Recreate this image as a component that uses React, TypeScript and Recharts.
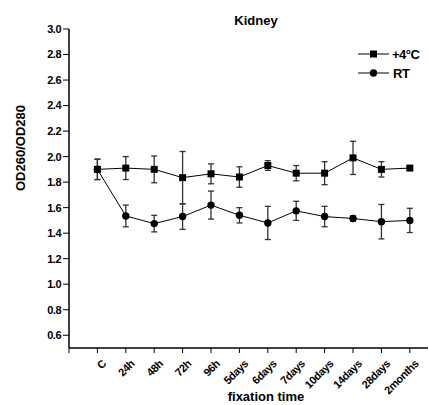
import React from "react";
import {
  LineChart, Line, XAxis, YAxis, ErrorBar, Customized,
} from "recharts";

const categories = [
  "C", "24h", "48h", "72h", "96h", "5days", "6days",
  "7days", "10days", "14days", "28days", "2months",
];

const cold = [1.9, 1.91, 1.9, 1.835, 1.865, 1.84, 1.93, 1.87, 1.87, 1.99, 1.9, 1.91];
const coldErr = [0.08, 0.09, 0.105, 0.205, 0.078, 0.08, 0.038, 0.06, 0.09, 0.13, 0.06, 0.01];

const rt = [1.9, 1.535, 1.475, 1.53, 1.62, 1.54, 1.48, 1.575, 1.53, 1.515, 1.49, 1.5];
const rtErr = [0.08, 0.085, 0.065, 0.1, 0.11, 0.06, 0.13, 0.075, 0.08, 0.02, 0.135, 0.095];

const yTicks = [0.6, 0.8, 1.0, 1.2, 1.4, 1.6, 1.8, 2.0, 2.2, 2.4, 2.6, 2.8, 3.0];
const xTicks = [0, 1, 2, 3, 4, 5, 6, 7, 8, 9, 10, 11, 12];

const data = categories.map((c, i) => ({
  x: i + 1,
  name: c,
  cold: cold[i],
  coldErr: coldErr[i],
  rt: rt[i],
  rtErr: rtErr[i],
}));

const FONT = "'Liberation Sans', Arial, sans-serif";

function Square(props: any) {
  const { cx, cy } = props;
  if (cx == null || cy == null) return null;
  return <rect x={cx - 3.5} y={cy - 3.5} width={7} height={7} fill="#000" />;
}

function Circle(props: any) {
  const { cx, cy } = props;
  if (cx == null || cy == null) return null;
  return <circle cx={cx} cy={cy} r={3.7} fill="#000" />;
}

function XTick(props: any) {
  const { x, y, payload } = props;
  const label = payload.value >= 1 ? categories[payload.value - 1] : "";
  if (!label) return null;
  return (
    <text
      transform={`translate(${x + 4},${y + 4}) rotate(-45)`}
      textAnchor="end"
      dy="0.7em"
      fontSize={11}
      fontWeight="bold"
      fontFamily={FONT}
      letterSpacing={-0.4}
      fill="#000"
    >
      {label}
    </text>
  );
}

function Decorations() {
  return (
    <g fontFamily={FONT} fontWeight="bold" fill="#000">
      <text x={256} y={25} textAnchor="middle" fontSize={13}>Kidney</text>
      <text x={266} y={401} textAnchor="middle" fontSize={13}>fixation time</text>
      <text
        transform="translate(25,148) rotate(-90)"
        textAnchor="middle"
        fontSize={13}
      >
        OD260/OD280
      </text>
      <line x1={358} y1={54} x2={389} y2={54} stroke="#000" strokeWidth={1} />
      <rect x={370} y={50.5} width={7} height={7} fill="#000" />
      <text x={392} y={59} fontSize={13} letterSpacing={-0.5}>+4°C</text>
      <line x1={358} y1={73} x2={389} y2={73} stroke="#000" strokeWidth={1} />
      <circle cx={373.5} cy={73} r={3.7} fill="#000" />
      <text x={393} y={78} fontSize={13} letterSpacing={-0.5}>RT</text>
    </g>
  );
}

export default function App() {
  return (
    <div style={{ position: "absolute", left: 0, top: 0, background: "#fff" }}>
      <LineChart
        width={429}
        height={405}
        data={data}
        margin={{ top: 29, right: 1, left: 9, bottom: 0 }}
      >
        <XAxis
          type="number"
          dataKey="x"
          domain={[0, 12.64]}
          ticks={xTicks}
          interval={0}
          height={57}
          tick={<XTick />}
          tickSize={5}
          stroke="#000"
          axisLine={{ stroke: "#000", strokeWidth: 1.5 }}
          tickLine={{ stroke: "#000" }}
        />
        <YAxis
          type="number"
          domain={[0.5, 3.0]}
          ticks={yTicks}
          interval={0}
          width={60}
          tickSize={6}
          tickMargin={2}
          tickFormatter={(v: number) => v.toFixed(1)}
          tick={{ fontSize: 11, fontWeight: "bold", fill: "#000", fontFamily: FONT, letterSpacing: -0.5 }}
          axisLine={{ stroke: "#000", strokeWidth: 1.5 }}
          tickLine={{ stroke: "#000" }}
        />
        <Line
          dataKey="rt"
          stroke="#000"
          strokeWidth={1}
          dot={<Circle />}
          activeDot={false}
          isAnimationActive={false}
        >
          <ErrorBar dataKey="rtErr" direction="y" width={3} stroke="#333" strokeWidth={1.3} isAnimationActive={false} />
        </Line>
        <Line
          dataKey="cold"
          stroke="#000"
          strokeWidth={1}
          dot={<Square />}
          activeDot={false}
          isAnimationActive={false}
        >
          <ErrorBar dataKey="coldErr" direction="y" width={3} stroke="#333" strokeWidth={1.3} isAnimationActive={false} />
        </Line>
        <Customized component={Decorations} />
      </LineChart>
    </div>
  );
}
